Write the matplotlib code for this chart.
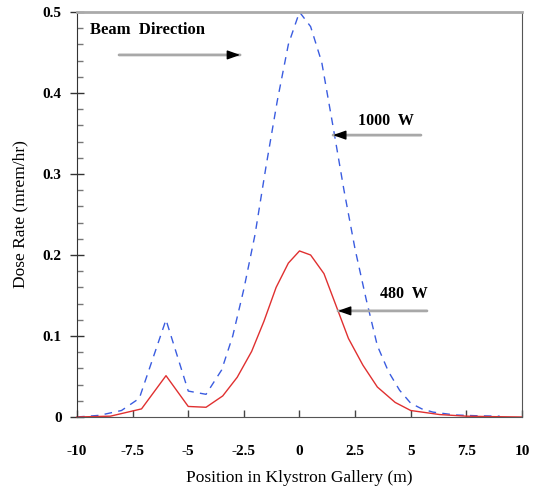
import matplotlib
matplotlib.use('Agg')
import matplotlib.pyplot as plt
from matplotlib.ticker import MultipleLocator

# 480 W curve (solid red)
pos_480 = [-10, -8.5, -7.1, -6, -5, -4.2, -3.45, -2.8, -2.15, -1.6, -1.05, -0.5,
           0, 0.5, 1.1, 1.65, 2.2, 2.85, 3.5, 4.3, 5.0, 6.3, 7.5, 8.5, 10]
dose_480 = [0, 0.001, 0.010, 0.051, 0.013, 0.012, 0.026, 0.049, 0.081, 0.118, 0.16, 0.19,
            0.205, 0.200, 0.177, 0.137, 0.097, 0.064, 0.037, 0.018, 0.008, 0.003, 0.001, 0.0005, 0]

# 1000 W curve (dashed blue)
pos_1000 = [-10, -9, -8, -7.2, -6, -5, -4.2, -3.5, -3, -2.5, -2, -1.5, -1, -0.5,
            0, 0.5, 1, 1.5, 2, 2.5, 3, 3.5, 4, 4.5, 5, 5.5, 6, 7, 8, 9]
dose_1000 = [0, 0.002, 0.008, 0.023, 0.12, 0.032, 0.028, 0.058, 0.10, 0.158, 0.225, 0.31, 0.39, 0.46,
             0.5, 0.482, 0.438, 0.36, 0.28, 0.207, 0.145, 0.088, 0.056, 0.033, 0.017, 0.010, 0.006, 0.0025, 0.0015, 0.001]

xticks = [-10, -7.5, -5, -2.5, 0, 2.5, 5, 7.5, 10]
xlabels = ['-10', '-7.5', '-5', '-2.5', '0', '2.5', '5', '7.5', '10']
yticks = [0, 0.1, 0.2, 0.3, 0.4, 0.5]
ylabels = ['0', '0.1', '0.2', '0.3', '0.4', '0.5']

plt.rcParams['font.family'] = ['Liberation Serif', 'DejaVu Serif']

fig = plt.figure(figsize=(5.4, 4.9), dpi=100)
ax = fig.add_axes([0.1426, 0.149, 0.824, 0.8265])

ax.plot(pos_1000, dose_1000, color='#3a5ce0', lw=1.0, linestyle=(0, (5.5, 4.5)), clip_on=False)
ax.plot(pos_480, dose_480, color='#e03030', lw=1.0, clip_on=False)

ax.set_xlim(-10, 10)
ax.set_ylim(0, 0.5)

ax.set_xticks(xticks)
ax.set_xticklabels(xlabels, fontweight='bold', fontsize=11)
ax.set_yticks(yticks)
ax.set_yticklabels(ylabels, fontweight='bold', fontsize=11)
ax.yaxis.set_minor_locator(MultipleLocator(0.02))

ax.tick_params(axis='x', direction='in', length=5, width=1, color='#444444', pad=20)
ax.tick_params(axis='y', which='major', direction='inout', length=10, width=1, color='#333333', pad=6)
ax.tick_params(axis='y', which='minor', direction='in', length=4, width=1, color='#777777')

ax.spines['top'].set_color('#aaaaaa')
ax.spines['top'].set_linewidth(2)
ax.spines['right'].set_color('#555555')
ax.spines['bottom'].set_color('#555555')
ax.spines['left'].set_color('#333333')

ax.set_xlabel('Position in Klystron Gallery (m)', fontsize=12.5, labelpad=9)
ax.set_ylabel('Dose Rate (mrem/hr)', fontsize=12.5, labelpad=10)


def arrow(x0, x1, y):
    """gray shaft with a solid black head"""
    ax.annotate('', xy=(x1, y), xytext=(x0, y),
                arrowprops=dict(arrowstyle='-', lw=2, color='#a8a8a8', shrinkA=0, shrinkB=0))
    step = 0.5 if x1 > x0 else -0.5
    ax.annotate('', xy=(x1, y), xytext=(x1 - step, y),
                arrowprops=dict(arrowstyle='-|>,head_length=0.7,head_width=0.25', mutation_scale=11,
                                lw=1, color='black', shrinkA=0, shrinkB=0))


ax.text(-9.42, 0.478, 'Beam  Direction', fontsize=12, fontweight='bold', va='center', ha='left')
arrow(-8.11, -2.67, 0.447)

ax.text(3.89, 0.365, '1000  W', fontsize=11.5, fontweight='bold', va='center', ha='center')
arrow(5.46, 1.51, 0.348)

ax.text(4.70, 0.152, '480  W', fontsize=11.5, fontweight='bold', va='center', ha='center')
arrow(5.73, 1.73, 0.131)

fig.savefig('out.png', dpi=100)
